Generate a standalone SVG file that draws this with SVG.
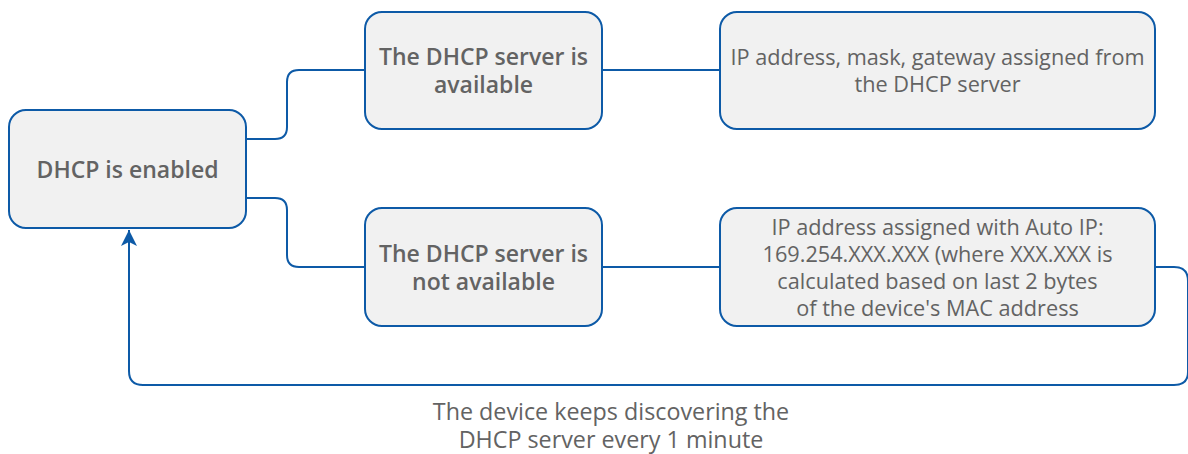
<svg xmlns="http://www.w3.org/2000/svg" width="1188" height="454" viewBox="0 0 1188 454">
<defs>
<style>
.node{fill:#f1f1f1;stroke:#0d5aa7;stroke-width:2}
.edge{fill:none;stroke:#0d5aa7;stroke-width:2}
.t{font-family:"Open Sans","Noto Sans","Liberation Sans",sans-serif;fill:#636363;text-anchor:middle}
.b{font-size:23px;font-weight:600}
.r{font-size:21.7px;font-weight:400}
.l{font-size:23.3px;font-weight:400}
</style>
<marker id="arr" viewBox="0 0 16 18" markerWidth="16" markerHeight="18" refX="16" refY="9" orient="auto" markerUnits="userSpaceOnUse">
<path d="M0,1 L16,9 L0,17 L4,9 Z" fill="#0d5aa7"/>
</marker>
</defs>
<rect width="1188" height="454" fill="#ffffff"/>
<g id="connectors">
<path class="edge" d="M246,139 H275 Q287,139 287,127 V82 Q287,70 299,70 H365"/>
<path class="edge" d="M246,198 H275 Q287,198 287,210 V255 Q287,267 299,267 H365"/>
<path class="edge" d="M602,70 H720"/>
<path class="edge" d="M602,267 H720"/>
<path class="edge" d="M1155,267 H1174 Q1188,267 1188,281 V372 Q1188,385 1174,385 H143 Q129,385 129,371 V230" marker-end="url(#arr)"/>
</g>
<g id="node-dhcp-enabled">
<rect class="node" x="9" y="110" width="237" height="118" rx="17"/>
<text class="t b" x="127.5" y="177.5">DHCP is enabled</text>
</g>
<g id="node-server-available">
<rect class="node" x="365" y="12" width="237" height="117" rx="17"/>
<text class="t b" x="483.5" y="64.5">The DHCP server is</text>
<text class="t b" x="483.5" y="92.5">available</text>
</g>
<g id="node-server-not-available">
<rect class="node" x="365" y="208" width="237" height="118" rx="17"/>
<text class="t b" x="483.5" y="261.5">The DHCP server is</text>
<text class="t b" x="483.5" y="289.5">not available</text>
</g>
<g id="node-dhcp-assigned">
<rect class="node" x="720" y="12" width="435" height="117" rx="17"/>
<text class="t r" x="937.5" y="65">IP address, mask, gateway assigned from</text>
<text class="t r" x="937.5" y="92">the DHCP server</text>
</g>
<g id="node-auto-ip">
<rect class="node" x="720" y="208" width="435" height="118" rx="17"/>
<text class="t r" x="937.5" y="234.5">IP address assigned with Auto IP:</text>
<text class="t r" x="937.5" y="262">169.254.XXX.XXX (where XXX.XXX is</text>
<text class="t r" x="937.5" y="289">calculated based on last 2 bytes</text>
<text class="t r" x="937.5" y="316">of the device's MAC address</text>
</g>
<g id="label-loop">
<text class="t l" x="611" y="419.5">The device keeps discovering the</text>
<text class="t l" x="611" y="448">DHCP server every 1 minute</text>
</g>
</svg>
